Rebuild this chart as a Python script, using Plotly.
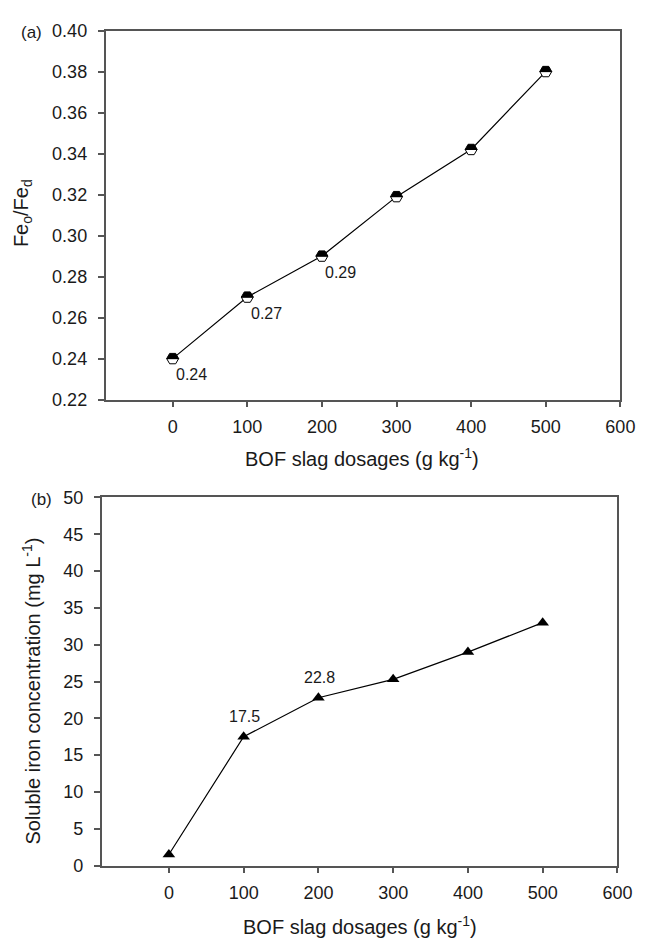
import plotly.graph_objects as go

# ---- data ----
dosage = [0, 100, 200, 300, 400, 500]
fe_ratio = [0.24, 0.27, 0.29, 0.319, 0.342, 0.38]
soluble_fe = [1.5, 17.5, 22.8, 25.3, 29.0, 33.0]
ratio_label_x = [0, 100, 200]
ratio_label_y = [0.24, 0.27, 0.29]
ratio_label_txt = ["0.24", "0.27", "0.29"]
fe_label_x = [100, 200]
fe_label_y = [17.5, 22.8]
fe_label_txt = ["17.5", "22.8"]
x_ticks = [0, 100, 200, 300, 400, 500, 600]
y1_ticks = [0.22, 0.24, 0.26, 0.28, 0.30, 0.32, 0.34, 0.36, 0.38, 0.40]
y2_ticks = [0, 5, 10, 15, 20, 25, 30, 35, 40, 45, 50]

W, H = 651, 948
FONT = "Arial, Liberation Sans, sans-serif"
TXT = "#1a1a1a"
AX = "#555555"

fig = go.Figure()

fig.add_trace(go.Scatter(x=dosage, y=fe_ratio, mode="lines",
                         line=dict(color="black", width=1.2),
                         xaxis="x", yaxis="y", showlegend=False))
fig.add_trace(go.Scatter(x=dosage, y=soluble_fe, mode="lines+markers",
                         line=dict(color="black", width=1.2),
                         marker=dict(symbol="triangle-up", size=11, color="black"),
                         xaxis="x2", yaxis="y2", showlegend=False))

# half-filled hexagon markers for panel (a)
r = 6.0
h = 0.866 * r
top = f"M {-r} 0 L {-r/2} {h} L {r/2} {h} L {r} 0 Z"
bot = f"M {-r} 0 L {-r/2} {-h} L {r/2} {-h} L {r} 0 Z"
shapes = []
for xv, yv in zip(dosage, fe_ratio):
    common = dict(type="path", xref="x", yref="y", xsizemode="pixel",
                  ysizemode="pixel", xanchor=xv, yanchor=yv, layer="above")
    shapes.append(dict(path=bot, fillcolor="white",
                       line=dict(color="black", width=1), **common))
    shapes.append(dict(path=top, fillcolor="black",
                       line=dict(color="black", width=1), **common))


def label(text, x, y, size, angle=0, xref="paper", yref="paper", xs=0, ys=0):
    return dict(x=x, y=y, xref=xref, yref=yref, text=text, showarrow=False,
                textangle=angle, xanchor="center", yanchor="middle",
                xshift=xs, yshift=ys,
                font=dict(size=size, color=TXT, family=FONT))


ann = []
for xv, yv, t in zip(ratio_label_x, ratio_label_y, ratio_label_txt):
    ann.append(label(t, xv, yv, 16, xref="x", yref="y", xs=19, ys=-16))
for xv, yv, t in zip(fe_label_x, fe_label_y, fe_label_txt):
    ann.append(label(t, xv, yv, 16, xref="x2", yref="y2", xs=1, ys=20))

ann += [
    label("(a)", 32 / W, 1 - 23 / H, 17),
    label("(b)", 42 / W, 1 - 500 / H, 17),
    label("Fe<sub>o</sub>/Fe<sub>d</sub>", 23 / W, 1 - 207 / H, 20, angle=-90),
    label("Soluble iron concentration (mg L<sup>-1</sup>)", 32 / W, 1 - 696 / H, 20, angle=-90),
    label("BOF slag dosages (g kg<sup>-1</sup>)", 371 / W, 1 - 457 / H, 20),
    label("BOF slag dosages (g kg<sup>-1</sup>)", 368 / W, 1 - 935 / H, 20),
]

axis_common = dict(showline=True, mirror=True, linecolor=AX, linewidth=1.5,
                   ticks="outside", ticklen=6, tickwidth=1.5, tickcolor=AX,
                   showgrid=False, zeroline=False,
                   tickfont=dict(size=18, color=TXT, family=FONT))

fig.update_layout(
    width=W, height=H,
    margin=dict(l=0, r=0, t=0, b=0),
    paper_bgcolor="white", plot_bgcolor="white",
    font=dict(family=FONT, color=TXT),
    shapes=shapes, annotations=ann,
    xaxis=dict(domain=[108 / W, 635 / W], range=[-90, 600], tickvals=x_ticks,
               anchor="y", ticklabelstandoff=4, **axis_common),
    yaxis=dict(domain=[1 - 398 / H, 1 - 21 / H], range=[0.22, 0.40],
               tickvals=y1_ticks, tickformat=".2f", anchor="x",
               ticklabelstandoff=7, **axis_common),
    xaxis2=dict(domain=[104 / W, 632 / W], range=[-90, 600], tickvals=x_ticks,
                anchor="y2", ticklabelstandoff=4, **axis_common),
    yaxis2=dict(domain=[1 - 874 / H, 1 - 498 / H], range=[0, 50],
                tickvals=y2_ticks, anchor="x2", ticklabelstandoff=7,
                **axis_common),
)

fig.write_html("out.html", config={"displayModeBar": False},
               post_script="document.body.style.margin='0';")
